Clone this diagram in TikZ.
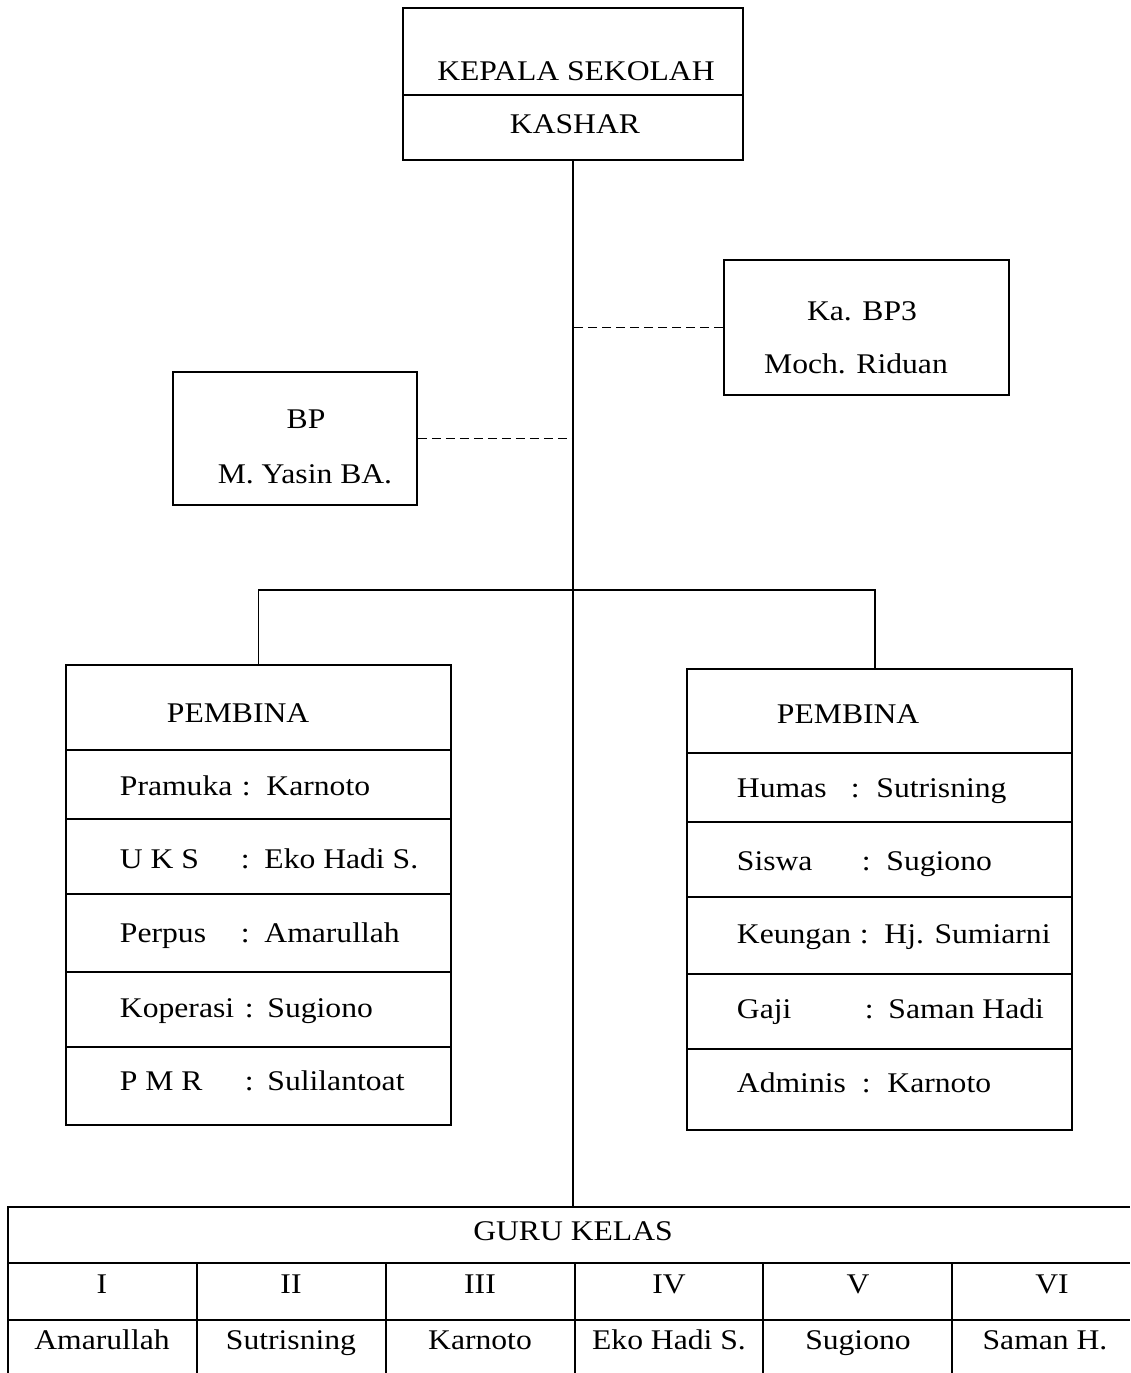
\documentclass[tikz,border=0pt]{standalone}
\usepackage{fontspec}
\setmainfont{Liberation Serif}[FakeStretch=1.11]
\newcommand{\orgrow}[7]{%
  \node[txt] (#1a) at (#2,#3) {#4};
  \node[txt] (#1c) at (#5,#3) {:};
  \node[txt] (#1n) at (#6,#3) {#7};}
\begin{document}
\begin{tikzpicture}[x=1pt,y=-1pt,
  line width=1.9pt,
  every node/.style={font=\fontsize{28.5}{34}\selectfont},
  box/.style={draw, rectangle, inner sep=0pt},
  txt/.style={inner sep=0pt, anchor=base west},
  ctxt/.style={inner sep=0pt, anchor=base},
  dashline/.style={line width=1.8pt, dash pattern=on 9pt off 5pt}]
\path[use as bounding box, clip] (0,0) rectangle (1130,1373);
\fill[white] (0,0) rectangle (1130,1373);

% Kepala sekolah
\node[box, minimum width=340pt, minimum height=152pt] (kepala) at (573,84) {};
\draw (kepala.west |- 0,95) -- (kepala.east |- 0,95);
\node[ctxt] (kepT) at (576,80) {KEPALA SEKOLAH};
\node[ctxt] (kepN) at (575,133) {KASHAR};

% Ka. BP3
\node[box, minimum width=285pt, minimum height=135pt] (bp3) at (866.5,327.5) {};
\node[ctxt] (bp3T) at (862,320) {Ka. BP3};
\node[ctxt] (bp3N) at (856,373) {Moch. Riduan};

% BP
\node[box, minimum width=244pt, minimum height=133pt] (bp) at (295,438.5) {};
\node[ctxt] (bpT) at (306,428) {BP};
\node[ctxt] (bpN) at (305,483) {M. Yasin BA.};

% Guru kelas table anchor
\coordinate (guru) at (573,1207);
\coordinate (bus) at (573,590);

% connectors
\draw (kepala.south) -- (kepala.south |- guru);
\draw[dashline] (bp3.west) -- (bp3.west -| kepala.south);
\draw[dashline] (bp.east) -- (bp.east -| kepala.south);

% Pembina left
\node[box, minimum width=385pt, minimum height=460pt] (pemL) at (258.5,895) {};
\foreach \yy in {750,819,894,972,1047}
  \draw (pemL.west |- 0,\yy) -- (pemL.east |- 0,\yy);
\node[txt] (pemLT) at (166,722) {PEMBINA};
\orgrow{la}{119}{795}{Pramuka}{241}{265.5}{Karnoto}
\orgrow{lb}{119}{868}{U K S}{240}{263.5}{Eko Hadi S.}
\orgrow{lc}{119}{942}{Perpus}{240}{263.5}{Amarullah}
\orgrow{ld}{119}{1017}{Koperasi}{244}{266.5}{Sugiono}
\orgrow{le}{119}{1090}{P M R}{244}{266.5}{Sulilantoat}

% Pembina right
\node[box, minimum width=385pt, minimum height=461pt] (pemR) at (879.5,899.5) {};
\foreach \yy in {753,822,897,974,1049}
  \draw (pemR.west |- 0,\yy) -- (pemR.east |- 0,\yy);
\node[txt] (pemRT) at (776,723) {PEMBINA};
\orgrow{ra}{736}{797}{Humas}{850}{875.5}{Sutrisning}
\orgrow{rb}{736}{870}{Siswa}{861}{885.5}{Sugiono}
\orgrow{rc}{736}{943}{Keungan}{859}{883.5}{Hj. Sumiarni}
\orgrow{rd}{736}{1018}{Gaji}{864}{887.5}{Saman Hadi}
\orgrow{re}{736}{1092}{Adminis}{861}{886.5}{Karnoto}

\draw (pemL.north) |- (bus) -| ([xshift=-4.5pt]pemR.north);

% table
\draw (8,1373) -- (8,1207) -- (1130,1207);
\draw (8,1263) -- (1130,1263);
\draw (8,1320) -- (1130,1320);
\foreach \xx in {197,386,575,763,952}
  \draw (\xx,1263) -- (\xx,1373);
\node[ctxt] (guruT) at (573,1240) {GURU KELAS};
\node[ctxt] (k1) at (102,1293) {I};
\node[ctxt] (k2) at (291,1293) {II};
\node[ctxt] (k3) at (480,1293) {III};
\node[ctxt] (k4) at (669,1293) {IV};
\node[ctxt] (k5) at (858,1293) {V};
\node[ctxt] (k6) at (1052,1293) {VI};
\node[ctxt] (g1) at (102,1349) {Amarullah};
\node[ctxt] (g2) at (291,1349) {Sutrisning};
\node[ctxt] (g3) at (480,1349) {Karnoto};
\node[ctxt] (g4) at (669,1349) {Eko Hadi S.};
\node[ctxt] (g5) at (858,1349) {Sugiono};
\node[ctxt] (g6) at (1045,1349) {Saman H.};
\end{tikzpicture}
\end{document}
